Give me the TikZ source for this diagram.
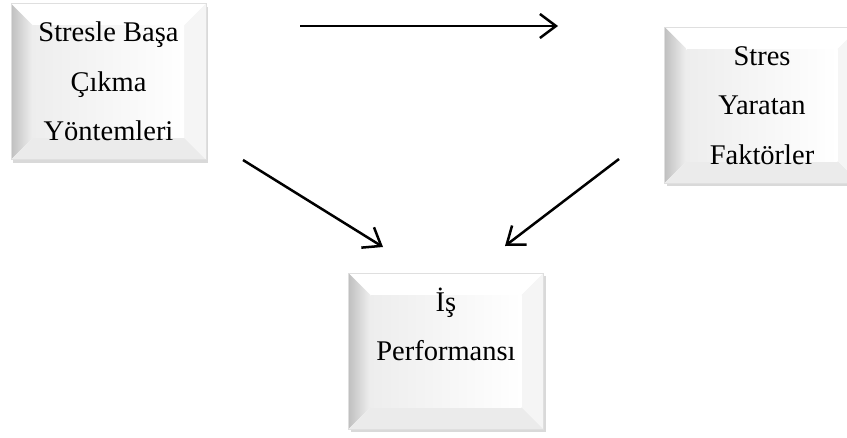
\documentclass[tikz,border=0pt]{standalone}
\usepackage{fontspec}
\setmainfont{Liberation Serif}
\usetikzlibrary{arrows.meta,shadows}

\newcommand{\bevtext}[1]{\parbox[c][150pt][t]{180pt}{\centering\rule{0pt}{35pt}#1}}

\begin{document}
\begin{tikzpicture}[x=1pt,y=-1pt,
  bevel/.style={minimum width=195pt, minimum height=156pt, inner sep=0pt,
    draw=gray!25, fill=white,
    drop shadow={shadow xshift=2pt, shadow yshift=-3pt, opacity=.3},
    font=\fontsize{28.5pt}{49.5pt}\selectfont,
    path picture={
      \coordinate (bnw) at (path picture bounding box.north west);
      \coordinate (bne) at (path picture bounding box.north east);
      \coordinate (bsw) at (path picture bounding box.south west);
      \coordinate (bse) at (path picture bounding box.south east);
      \coordinate (inw) at ([xshift=22pt,yshift=-22pt]bnw);
      \coordinate (ine) at ([xshift=-22pt,yshift=-22pt]bne);
      \coordinate (isw) at ([xshift=22pt,yshift=22pt]bsw);
      \coordinate (ise) at ([xshift=-22pt,yshift=22pt]bse);
      \fill[white] (bnw) -- (bne) -- (ine) -- (inw) -- cycle;
      \shade[left color=gray!50, right color=gray!12] (bnw) -- (inw) -- (isw) -- (bsw) -- cycle;
      \fill[gray!16] (bsw) -- (isw) -- (ise) -- (bse) -- cycle;
      \fill[gray!8] (bse) -- (ise) -- (ine) -- (bne) -- cycle;
      \shade[left color=gray!14, right color=white] (inw) rectangle (ise);
    }},
  conn/.style={line width=2.5pt, -{Straight Barb[length=16pt,width=24pt]}}]
\clip (0,0) rectangle (847,437);

\node[bevel] (yontem) at (108.5,81.5) {\bevtext{Stresle Başa\\Çıkma\\Yöntemleri}};
\node[bevel] (faktor) at (762,105) {\bevtext{Stres\\Yaratan\\Faktörler}};
\node[bevel] (perf) at (446,351) {\bevtext{İş\\Performansı}};

% free ends of the arrows
\coordinate (topA) at (300,26);
\coordinate (topB) at (558,26);
\coordinate (leftA) at (243,160);
\coordinate (leftB) at (383,247);
\coordinate (rightA) at (619,159);
\coordinate (rightB) at (505,246);

\draw[conn] (topA) -- (topB);
\draw[conn] (leftA) -- (leftB);
\draw[conn] (rightA) -- (rightB);
\end{tikzpicture}
\end{document}
